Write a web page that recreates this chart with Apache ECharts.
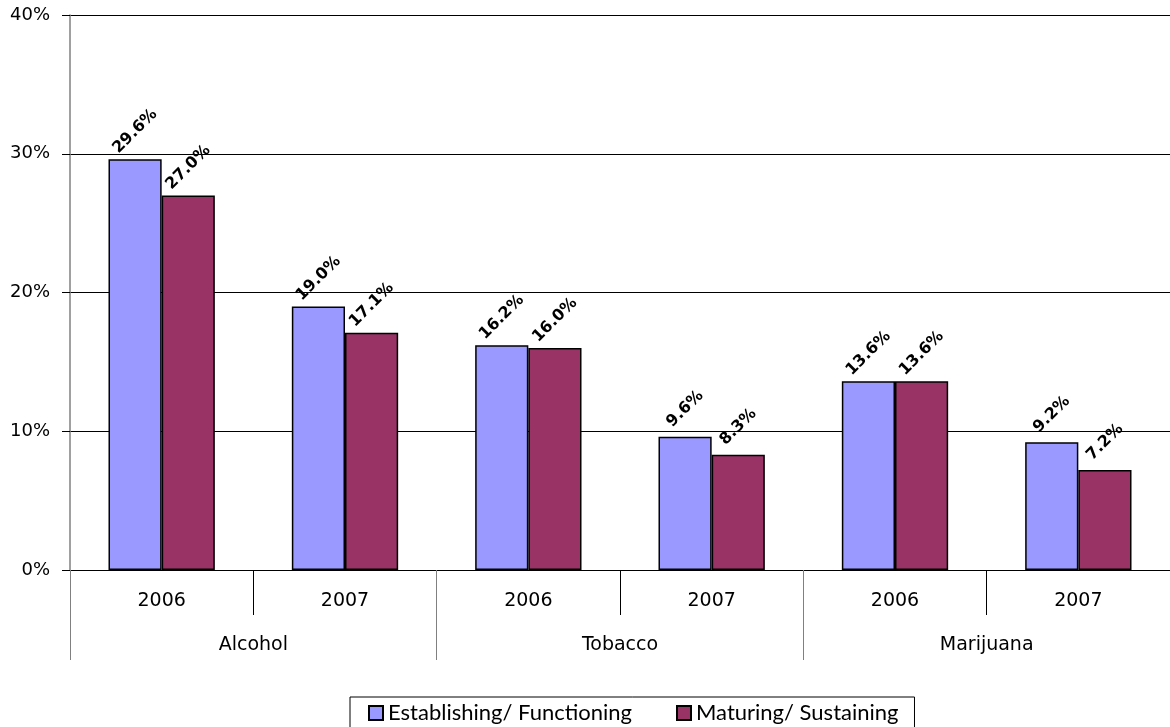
<!DOCTYPE html>
<html>
<head>
<meta charset="utf-8">
<script src="https://cdn.jsdelivr.net/npm/echarts@6/dist/echarts.min.js"></script>
<style>
  html, body { margin: 0; padding: 0; background: #fff; }
  #chart { width: 1170px; height: 727px; }
</style>
</head>
<body>
<div id="chart"></div>
<script>
// 数据
const years = ['2006', '2007', '2006', '2007', '2006', '2007']
const substances = ['Alcohol', 'Tobacco', 'Marijuana']
const establishing = [29.6, 19.0, 16.2, 9.6, 13.6, 9.2]
const maturing = [27.0, 17.1, 16.0, 8.3, 13.6, 7.2]

const chart = echarts.init(document.getElementById('chart'))

const valueLabel = {
  show: true,
  position: 'top',
  distance: 28,
  rotate: 45,
  align: 'center',
  verticalAlign: 'middle',
  fontFamily: 'DejaVu Sans',
  fontWeight: 'bold',
  fontSize: 16,
  color: '#000',
  formatter: p => p.value.toFixed(1) + '%'
}

chart.setOption({
  animation: false,
  textStyle: { fontFamily: 'DejaVu Sans' },
  grid: { left: 70, top: 15, width: 1105, height: 555 },
  legend: {
    left: 350,
    top: 697,
    icon: 'rect',
    itemWidth: 14,
    itemHeight: 14,
    itemGap: 44,
    padding: [5, 16, 8, 18],
    borderColor: '#000',
    borderWidth: 1,
    textStyle: { fontFamily: 'Lato', fontSize: 22, color: '#000' },
    data: ['Establishing/ Functioning', 'Maturing/ Sustaining']
  },
  xAxis: [
    {
      type: 'category',
      data: years,
      axisLine: { lineStyle: { color: '#000', width: 1 } },
      axisTick: { show: true, length: 45, lineStyle: { color: '#000' } },
      axisLabel: { margin: 22, fontSize: 19, color: '#000' }
    },
    {
      type: 'category',
      data: substances,
      position: 'bottom',
      axisLine: { show: false },
      axisTick: { show: true, length: 90, lineStyle: { color: '#808080' } },
      axisLabel: { margin: 66, fontSize: 19, color: '#000' }
    }
  ],
  yAxis: {
    type: 'value',
    min: 0,
    max: 40,
    interval: 10,
    axisLine: { show: true, lineStyle: { color: '#808080', width: 1.5 } },
    axisTick: { show: true, length: 8, lineStyle: { color: '#000' } },
    axisLabel: { formatter: '{value}%', margin: 20, fontSize: 18, color: '#000' },
    splitLine: { lineStyle: { color: '#000', width: 1 } }
  },
  series: [
    {
      name: 'Establishing/ Functioning',
      type: 'bar',
      xAxisIndex: 0,
      data: establishing,
      barGap: '0%',
      barCategoryGap: '42%',
      itemStyle: { color: '#9999ff', borderColor: '#000', borderWidth: 1.5 },
      label: valueLabel
    },
    {
      name: 'Maturing/ Sustaining',
      type: 'bar',
      xAxisIndex: 0,
      data: maturing,
      itemStyle: { color: '#993366', borderColor: '#000', borderWidth: 1.5 },
      label: valueLabel
    }
  ]
})
</script>
</body>
</html>
